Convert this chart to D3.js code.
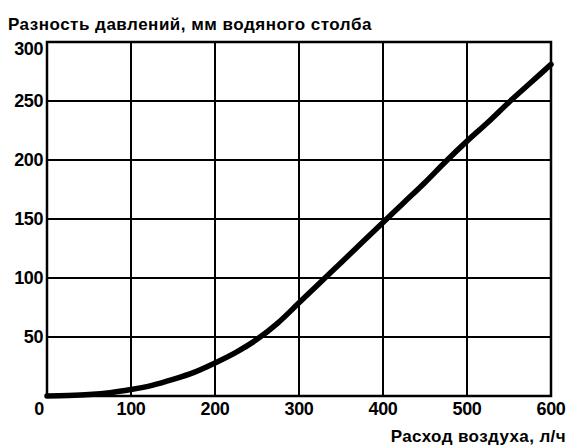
<!DOCTYPE html>
<html><head><meta charset="utf-8">
<script src="https://cdn.jsdelivr.net/npm/d3@7"></script>
<style>body{margin:0;background:#fff}svg{display:block}text{font-family:"Liberation Sans",Arial,sans-serif;font-weight:bold;fill:#000}</style>
</head><body><svg id="c" width="571" height="445"></svg>
<script>
const flow = [0,25,50,75,100,125,150,175,200,225,250,275,300,325,350,375,400,425,450,475,500,525,550,575,600];
const pressure = [0,0.4,1.2,2.8,5.5,9,14,20,28,37,48,62,79,96,113,130,147,164,181,199,216,232,249,265,281];
const xTicks = [0,100,200,300,400,500,600];
const yTicks = [0,50,100,150,200,250,300];
const yTitle = "Разность давлений, мм водяного столба";
const xTitle = "Расход воздуха, л/ч";

const svg = d3.select("#c");
const m = {l:47, r:551, t:42, b:396};
const x = d3.scaleLinear().domain([0,600]).range([m.l,m.r]);
const y = d3.scaleLinear().domain([0,300]).range([m.b,m.t]);

// grid
svg.append("g").selectAll("line").data(xTicks.slice(1,-1)).join("line")
  .attr("x1",d=>x(d)).attr("x2",d=>x(d)).attr("y1",m.t).attr("y2",m.b)
  .attr("stroke","#000").attr("stroke-width",2);
svg.append("g").selectAll("line").data(yTicks.slice(1,-1)).join("line")
  .attr("y1",d=>y(d)).attr("y2",d=>y(d)).attr("x1",m.l).attr("x2",m.r)
  .attr("stroke","#000").attr("stroke-width",2);
// frame
svg.append("rect").attr("x",m.l).attr("y",m.t).attr("width",m.r-m.l).attr("height",m.b-m.t)
  .attr("fill","none").attr("stroke","#000").attr("stroke-width",2.5);

// y tick labels
svg.append("g").selectAll("text").data(yTicks.slice(1)).join("text")
  .attr("x",43).attr("y",d=>Math.max(y(d),49)).attr("dy","0.36em")
  .attr("text-anchor","end").attr("font-size",18).attr("letter-spacing",-0.4).text(d=>d);
// x tick labels
svg.append("g").selectAll("text").data(xTicks).join("text")
  .attr("x",d=>d===0?39:Math.min(x(d),553)).attr("y",409).attr("dy","0.36em")
  .attr("text-anchor","middle").attr("font-size",18).attr("letter-spacing",-0.4).text(d=>d);

// curve
const line = d3.line().x((d,i)=>x(flow[i])).y(d=>y(d)).curve(d3.curveMonotoneX);
svg.append("path").datum(pressure).attr("d",line).attr("fill","none")
  .attr("stroke","#000").attr("stroke-width",5.5).attr("stroke-linecap","round");

// titles
svg.append("text").attr("x",8).attr("y",24).attr("dy","0.36em").attr("font-size",17)
  .attr("letter-spacing",0.5).text(yTitle);
svg.append("text").attr("x",566).attr("y",436).attr("dy","0.36em").attr("text-anchor","end")
  .attr("font-size",17).attr("letter-spacing",0.4).text(xTitle);
</script></body></html>
